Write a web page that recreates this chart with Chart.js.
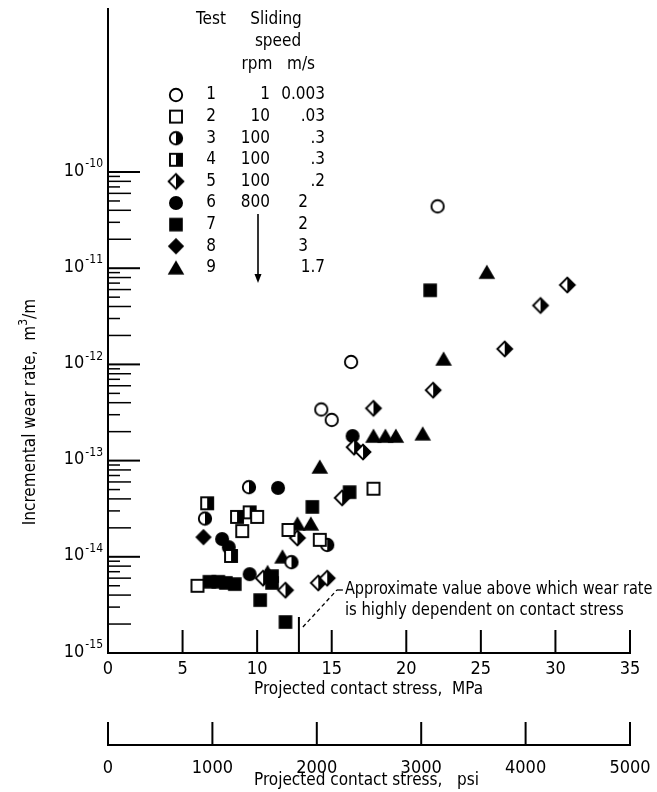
<!DOCTYPE html>
<html>
<head>
<meta charset="utf-8">
<script src="https://cdn.jsdelivr.net/npm/chart.js@4.4.1/dist/chart.umd.min.js"></script>
<style>
html,body{margin:0;padding:0;background:#fff;}
#wrap{width:657px;height:792px;position:relative;}
canvas{display:block;}
</style>
</head>
<body>
<div id="wrap"><canvas id="c" width="657" height="792" style="width:657px;height:792px"></canvas></div>
<script>
const FONT = "'DejaVu Sans Condensed', 'DejaVu Sans', sans-serif";

// ---- legend table ----
const testIds = ['1','2','3','4','5','6','7','8','9'];
const rpmValues = ['1','10','100','100','100','800','','',''];
const speedValues = ['0.003','.03','.3','.3','.2','2','2','3','1.7'];

// ---- axis ticks ----
const mpaTicks = [0,5,10,15,20,25,30,35];
const psiTicks = [0,1000,2000,3000,4000,5000];
const wearDecades = [1e-15,1e-14,1e-13,1e-12,1e-11,1e-10];
const decadeExponents = ['-15','-14','-13','-12','-11','-10'];
const thresholdMPa = 12.8;

// ---- data: projected contact stress (MPa) and incremental wear rate (m^3/m) ----
const test1Stress = [22.1, 16.3, 14.3, 15.0];
const test1Wear   = [4.4e-11, 1.06e-12, 3.4e-13, 2.65e-13];
const test2Stress = [17.8, 12.1, 14.2, 9.0, 10.0, 6.0];
const test2Wear   = [5.1e-14, 1.9e-14, 1.5e-14, 1.85e-14, 2.6e-14, 5.0e-15];
const test3Stress = [6.5, 9.45, 12.3, 14.7];
const test3Wear   = [2.5e-14, 5.3e-14, 8.8e-15, 1.33e-14];
const test4Stress = [6.65, 8.65, 9.5, 8.25];
const test4Wear   = [3.6e-14, 2.6e-14, 2.9e-14, 1.02e-14];
const test5Stress = [30.8, 29.0, 26.6, 21.8, 17.8, 16.5, 17.1, 15.7, 12.7, 10.4, 11.9, 14.1, 14.7];
const test5Wear   = [6.7e-12, 4.1e-12, 1.45e-12, 5.4e-13, 3.5e-13, 1.38e-13, 1.23e-13, 4.1e-14, 1.57e-14, 6.0e-15, 4.5e-15, 5.35e-15, 6.0e-15];
const test6Stress = [16.4, 11.4, 7.65, 8.1, 9.5];
const test6Wear   = [1.8e-13, 5.2e-14, 1.53e-14, 1.26e-14, 6.6e-15];
const test7Stress = [21.6, 16.2, 13.7, 11.0, 11.0, 10.2, 11.9, 6.8, 7.4, 7.9, 8.5];
const test7Wear   = [5.9e-12, 4.7e-14, 3.3e-14, 6.3e-15, 5.35e-15, 3.55e-15, 2.1e-15, 5.5e-15, 5.5e-15, 5.35e-15, 5.2e-15];
const test8Stress = [6.4];
const test8Wear   = [1.6e-14];
const test9Stress = [25.4, 22.5, 21.1, 17.8, 18.6, 19.3, 14.2, 12.7, 13.6, 11.7, 10.7];
const test9Wear   = [9.1e-12, 1.14e-12, 1.9e-13, 1.8e-13, 1.8e-13, 1.8e-13, 8.6e-14, 2.2e-14, 2.2e-14, 1.0e-14, 6.9e-15];

const stressSeries = [test1Stress,test2Stress,test3Stress,test4Stress,test5Stress,test6Stress,test7Stress,test8Stress,test9Stress];
const wearSeries   = [test1Wear,test2Wear,test3Wear,test4Wear,test5Wear,test6Wear,test7Wear,test8Wear,test9Wear];
const markerKinds  = ['circleOpen','squareOpen','circleHalf','squareHalf','diamondHalf','circleFill','squareFill','diamondFill','triangleFill'];

// ---- marker images ----
function makeMarker(kind){
  const S = 20, c = document.createElement('canvas');
  c.width = S; c.height = S;
  const g = c.getContext('2d');
  const m = S/2;
  g.lineWidth = 1.9; g.strokeStyle = '#000'; g.fillStyle = '#000';
  if (kind.startsWith('circle')) {
    const r = kind === 'circleFill' ? 7 : 6.2;
    g.beginPath(); g.arc(m, m, r, 0, Math.PI*2);
    if (kind === 'circleFill') { g.fill(); }
    else {
      g.fillStyle = '#fff'; g.fill();
      if (kind === 'circleHalf') { g.fillStyle = '#000'; g.beginPath(); g.arc(m, m, r, -Math.PI/2, Math.PI/2); g.closePath(); g.fill(); }
      g.beginPath(); g.arc(m, m, r, 0, Math.PI*2); g.stroke();
    }
  } else if (kind.startsWith('square')) {
    const h = kind === 'squareFill' ? 6.8 : 6.0;
    if (kind === 'squareFill') { g.fillRect(m-h, m-h, 2*h, 2*h); }
    else {
      g.fillStyle = '#fff'; g.fillRect(m-h, m-h, 2*h, 2*h);
      if (kind === 'squareHalf') { g.fillStyle = '#000'; g.fillRect(m, m-h, h, 2*h); }
      g.strokeRect(m-h, m-h, 2*h, 2*h);
    }
  } else if (kind.startsWith('diamond')) {
    const h = kind === 'diamondFill' ? 8.2 : 7.4;
    const path = () => { g.beginPath(); g.moveTo(m, m-h); g.lineTo(m+h, m); g.lineTo(m, m+h); g.lineTo(m-h, m); g.closePath(); };
    if (kind === 'diamondFill') { path(); g.fill(); }
    else {
      path(); g.fillStyle = '#fff'; g.fill();
      g.fillStyle = '#000'; g.beginPath(); g.moveTo(m, m-h); g.lineTo(m+h, m); g.lineTo(m, m+h); g.closePath(); g.fill();
      path(); g.stroke();
    }
  } else if (kind === 'triangleFill') {
    g.beginPath(); g.moveTo(m, m-7.5); g.lineTo(m+8.3, m+6.8); g.lineTo(m-8.3, m+6.8); g.closePath(); g.fill();
  }
  return c;
}
const markerImages = markerKinds.map(makeMarker);

const datasets = stressSeries.map((xs, i) => ({
  label: 'Test ' + testIds[i],
  data: xs.map((x, j) => ({x: x, y: wearSeries[i][j]})),
  pointStyle: markerImages[i],
  pointRadius: 7,
  pointHoverRadius: 7,
  showLine: false,
  xAxisID: 'x', yAxisID: 'y'
}));

function ln(ctx, x1, y1, x2, y2){ ctx.beginPath(); ctx.moveTo(x1,y1); ctx.lineTo(x2,y2); ctx.stroke(); }
function txt(ctx, s, x, y, size, align, sx){
  ctx.save();
  ctx.font = size + 'px ' + FONT;
  ctx.translate(x, y); ctx.scale(sx || 1, 1);
  ctx.textAlign = align; ctx.textBaseline = 'middle';
  ctx.fillText(s, 0, 0);
  ctx.restore();
}

const drawPlugin = {
  id: 'frame',
  beforeDatasetsDraw(chart){
    const ctx = chart.ctx;
    const xs = chart.scales.x, ys = chart.scales.y, xp = chart.scales.x2;
    const left = xs.getPixelForValue(0), right = xs.getPixelForValue(35);
    const bottom = ys.getPixelForValue(wearDecades[0]);
    const top = chart.chartArea.top;
    ctx.save();
    ctx.strokeStyle = '#000'; ctx.fillStyle = '#000';
    ctx.lineCap = 'butt';
    // axes lines
    ctx.lineWidth = 2;
    ln(ctx, left, top, left, bottom + 1);
    ln(ctx, left - 1, bottom, right + 1, bottom);
    // y ticks (inside)
    for (let d = 0; d < wearDecades.length; d++) {
      const base = wearDecades[d];
      if (d > 0) { ctx.lineWidth = 2; const py = ys.getPixelForValue(base); ln(ctx, left, py, left + 32, py); }
      if (d < wearDecades.length - 1) {
        ctx.lineWidth = 1.5;
        for (let m = 2; m <= 9; m++) {
          const py = ys.getPixelForValue(base * m);
          ln(ctx, left, py, left + (m % 2 === 0 ? 23 : 12), py);
        }
      }
    }
    // y tick labels
    for (let d = 0; d < wearDecades.length; d++) {
      const py = ys.getPixelForValue(wearDecades[d]);
      ctx.font = '12px ' + FONT;
      const supW = ctx.measureText(decadeExponents[d]).width;
      txt(ctx, decadeExponents[d], 103, py - 8, 12, 'right');
      txt(ctx, '10', 103 - supW - 1, py - 1, 18, 'right');
    }
    // x ticks
    ctx.lineWidth = 2;
    mpaTicks.forEach(t => { if (t > 0) { const px = xs.getPixelForValue(t); ln(ctx, px, bottom, px, bottom - 23); } });
    const tx = xs.getPixelForValue(thresholdMPa);
    ln(ctx, tx, bottom, tx, bottom - 36);
    // x labels
    mpaTicks.forEach(t => txt(ctx, String(t), xs.getPixelForValue(t), 669, 18, 'center'));
    txt(ctx, 'Projected contact stress,  MPa', 254, 690, 17, 'left');
    // psi axis
    const yP = 745;
    ctx.lineWidth = 2;
    ln(ctx, xp.getPixelForValue(psiTicks[0]), yP, xp.getPixelForValue(psiTicks[psiTicks.length-1]), yP);
    psiTicks.forEach(t => { const px = xp.getPixelForValue(t); ln(ctx, px, yP + 1, px, yP - 23); });
    psiTicks.forEach(t => txt(ctx, String(t), xp.getPixelForValue(t), 768, 18, 'center'));
    txt(ctx, 'Projected contact stress,   psi', 254, 781, 17, 'left');
    // y title
    ctx.save();
    ctx.translate(31, 412); ctx.rotate(-Math.PI/2);
    ctx.font = '17px ' + FONT;
    const t1 = 'Incremental wear rate,  m', t3 = '/m';
    const w1 = ctx.measureText(t1).width, w3 = ctx.measureText(t3).width;
    ctx.font = '12px ' + FONT; const w2 = ctx.measureText('3').width;
    const sx = -(w1 + w2 + w3)/2;
    txt(ctx, t1, sx, 0, 17, 'left');
    txt(ctx, '3', sx + w1, -7, 12, 'left');
    txt(ctx, t3, sx + w1 + w2, 0, 17, 'left');
    ctx.restore();
    // annotation leader
    ctx.lineWidth = 1.3;
    ctx.setLineDash([4, 3]);
    ln(ctx, tx + 4, bottom - 26, tx + 38, bottom - 63);
    ctx.setLineDash([]);
    ln(ctx, tx + 38, bottom - 63, tx + 44, bottom - 63);
    txt(ctx, 'Approximate value above which wear rate', tx + 46, bottom - 63, 17, 'left', 0.95);
    txt(ctx, 'is highly dependent on contact stress', tx + 46, bottom - 42, 17, 'left', 0.97);
    // legend table
    txt(ctx, 'Test', 211, 20, 17, 'center');
    txt(ctx, 'Sliding', 276, 20, 17, 'center');
    txt(ctx, 'speed', 278, 42, 17, 'center');
    txt(ctx, 'rpm', 257, 65, 17, 'center');
    txt(ctx, 'm/s', 301, 65, 17, 'center');
    for (let i = 0; i < testIds.length; i++) {
      const ry = 95 + i * 21.6;
      const img = markerImages[i];
      ctx.drawImage(img, 176 - img.width/2, ry - img.height/2);
      txt(ctx, testIds[i], 211, ry, 17, 'center');
      if (rpmValues[i]) txt(ctx, rpmValues[i], 270, ry, 17, 'right');
      txt(ctx, speedValues[i], speedValues[i].includes('.') ? 325 : 308, ry, 17, 'right');
    }
    // arrow for repeated rpm
    ctx.lineWidth = 1.6;
    ln(ctx, 258, 214, 258, 276);
    ctx.beginPath(); ctx.moveTo(254.5, 274); ctx.lineTo(261.5, 274); ctx.lineTo(258, 283); ctx.closePath(); ctx.fill();
    ctx.restore();
  }
};

new Chart(document.getElementById('c'), {
  type: 'scatter',
  data: { datasets },
  options: {
    responsive: false,
    devicePixelRatio: 1,
    animation: false,
    events: [],
    layout: { autoPadding: false, padding: { left: 108, right: 27, top: 8, bottom: 139 } },
    plugins: { legend: { display: false }, tooltip: { enabled: false } },
    scales: {
      x:  { type: 'linear', min: 0, max: 35, display: false },
      x2: { type: 'linear', axis: 'x', min: 0, max: 5000, display: false },
      y:  { type: 'logarithmic', min: 1e-15, max: 5.07e-9, display: false }
    }
  },
  plugins: [drawPlugin]
});
</script>
</body>
</html>
